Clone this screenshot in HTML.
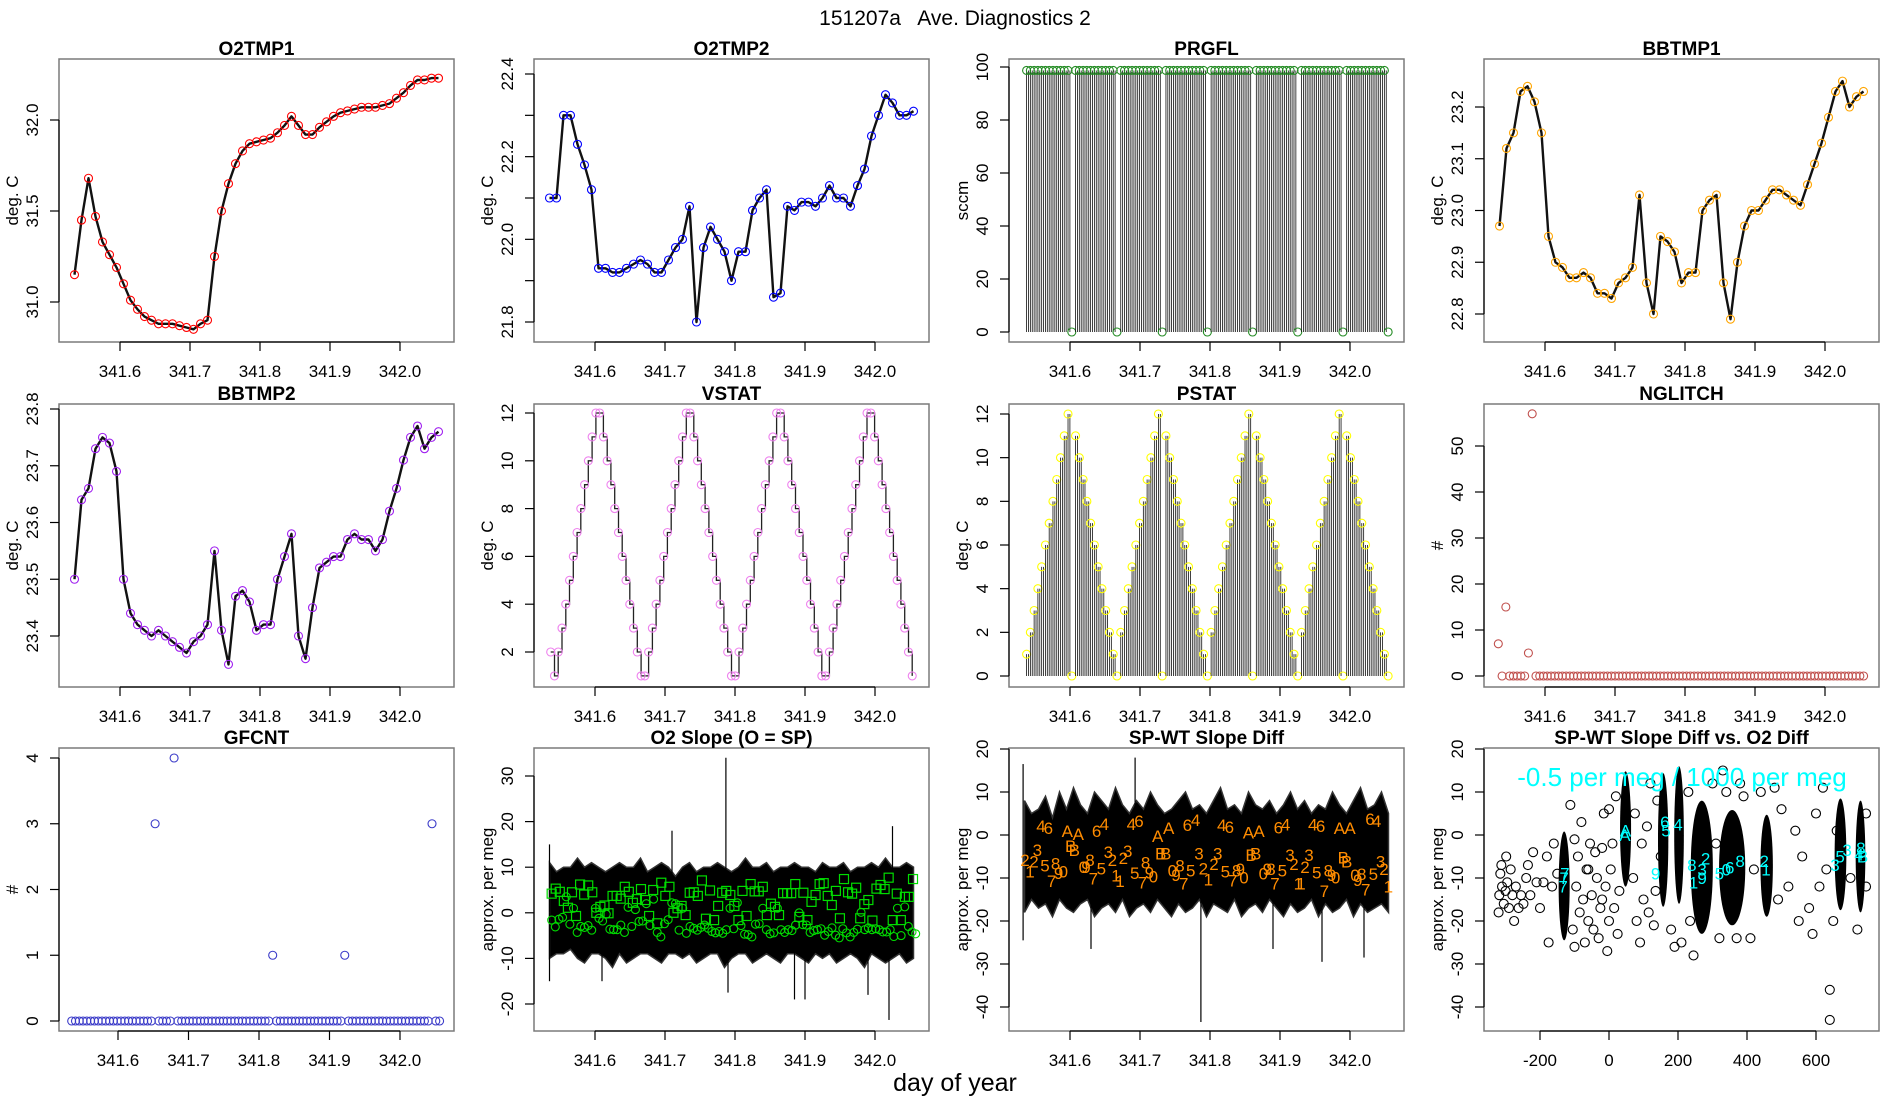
<!DOCTYPE html>
<html><head><meta charset="utf-8"><title>151207a Ave. Diagnostics 2</title>
<style>
html,body{margin:0;padding:0;background:#fff;}
svg{display:block;font-family:"Liberation Sans",Arial,sans-serif;}
</style></head>
<body>
<svg id="chart" xmlns="http://www.w3.org/2000/svg" width="1900" height="1100" viewBox="0 0 1900 1100">
<rect x="0" y="0" width="1900" height="1100" fill="#fff"/>
<text x="955" y="25" text-anchor="middle" font-size="21" style="white-space:pre">151207a   Ave. Diagnostics 2</text>
<text x="955" y="1091" text-anchor="middle" font-size="25">day of year</text>
</svg>
<script>
// ---------- data ----------
const tGrid=[341.535,341.545,341.555,341.565,341.575,341.585,341.595,341.605,341.615,341.625,341.635,341.645,341.655,341.665,341.675,341.685,341.695,341.705,341.715,341.725,341.735,341.745,341.755,341.765,341.775,341.785,341.795,341.805,341.815,341.825,341.835,341.845,341.855,341.865,341.875,341.885,341.895,341.905,341.915,341.925,341.935,341.945,341.955,341.965,341.975,341.985,341.995,342.005,342.015,342.025,342.035,342.045,342.055];
const o2tmp1=[31.15,31.45,31.68,31.47,31.33,31.26,31.19,31.1,31.01,30.96,30.92,30.9,30.88,30.88,30.88,30.87,30.86,30.85,30.88,30.9,31.25,31.5,31.65,31.76,31.83,31.87,31.88,31.89,31.9,31.93,31.97,32.02,31.97,31.92,31.92,31.96,31.99,32.02,32.04,32.05,32.06,32.07,32.07,32.07,32.08,32.09,32.12,32.15,32.19,32.22,32.22,32.23,32.23];
const o2tmp2=[22.1,22.1,22.3,22.3,22.23,22.18,22.12,21.93,21.93,21.92,21.92,21.93,21.94,21.95,21.94,21.92,21.92,21.95,21.98,22.0,22.08,21.8,21.98,22.03,22.0,21.97,21.9,21.97,21.97,22.07,22.1,22.12,21.86,21.87,22.08,22.07,22.09,22.09,22.08,22.1,22.13,22.1,22.1,22.08,22.13,22.17,22.25,22.3,22.35,22.33,22.3,22.3,22.31];
const bbtmp1=[22.97,23.12,23.15,23.23,23.24,23.21,23.15,22.95,22.9,22.89,22.87,22.87,22.88,22.87,22.84,22.84,22.83,22.86,22.87,22.89,23.03,22.86,22.8,22.95,22.94,22.92,22.86,22.88,22.88,23.0,23.02,23.03,22.86,22.79,22.9,22.97,23.0,23.0,23.02,23.04,23.04,23.03,23.02,23.01,23.05,23.09,23.13,23.18,23.23,23.25,23.2,23.22,23.23];
const bbtmp2=[23.5,23.64,23.66,23.73,23.75,23.74,23.69,23.5,23.44,23.42,23.41,23.4,23.41,23.4,23.39,23.38,23.37,23.39,23.4,23.42,23.55,23.41,23.35,23.47,23.48,23.46,23.41,23.42,23.42,23.5,23.54,23.58,23.4,23.36,23.45,23.52,23.53,23.54,23.54,23.57,23.58,23.57,23.57,23.55,23.57,23.62,23.66,23.71,23.75,23.77,23.73,23.75,23.76];
const stepStart=341.5367, stepSize=0.00538;
const vstat=[2,1,2,3,4,5,6,7,8,9,10,11,12,12,11,10,9,8,7,6,5,4,3,2,1,1,2,3,4,5,6,7,8,9,10,11,12,12,11,10,9,8,7,6,5,4,3,2,1,1,2,3,4,5,6,7,8,9,10,11,12,12,11,10,9,8,7,6,5,4,3,2,1,1,2,3,4,5,6,7,8,9,10,11,12,12,11,10,9,8,7,6,5,4,3,2,1];
const pstatStart=341.538;
const pstat=[1,2,3,4,5,6,7,8,9,10,11,12,0,11,10,9,8,7,6,5,4,3,2,1,0,2,3,4,5,6,7,8,9,10,11,12,0,11,10,9,8,7,6,5,4,3,2,1,0,2,3,4,5,6,7,8,9,10,11,12,0,11,10,9,8,7,6,5,4,3,2,1,0,2,3,4,5,6,7,8,9,10,11,12,0,11,10,9,8,7,6,5,4,3,2,1,0];
const prgfl=[98.7,98.7,98.7,98.7,98.7,98.7,98.7,98.7,98.7,98.7,98.7,98.7,0,98.7,98.7,98.7,98.7,98.7,98.7,98.7,98.7,98.7,98.7,98.7,0,98.7,98.7,98.7,98.7,98.7,98.7,98.7,98.7,98.7,98.7,98.7,0,98.7,98.7,98.7,98.7,98.7,98.7,98.7,98.7,98.7,98.7,98.7,0,98.7,98.7,98.7,98.7,98.7,98.7,98.7,98.7,98.7,98.7,98.7,0,98.7,98.7,98.7,98.7,98.7,98.7,98.7,98.7,98.7,98.7,98.7,0,98.7,98.7,98.7,98.7,98.7,98.7,98.7,98.7,98.7,98.7,98.7,0,98.7,98.7,98.7,98.7,98.7,98.7,98.7,98.7,98.7,98.7,98.7,0];
const nglitchStart=341.5333;
const nglitch=[7,0,15,0,0,0,0,0,5,57,0,0,0,0,0,0,0,0,0,0,0,0,0,0,0,0,0,0,0,0,0,0,0,0,0,0,0,0,0,0,0,0,0,0,0,0,0,0,0,0,0,0,0,0,0,0,0,0,0,0,0,0,0,0,0,0,0,0,0,0,0,0,0,0,0,0,0,0,0,0,0,0,0,0,0,0,0,0,0,0,0,0,0,0,0,0,0,0];
const gfcntStart=341.5343;
const gfcnt=[0,0,0,0,0,0,0,0,0,0,0,0,0,0,0,0,0,0,0,0,0,0,3,0,0,0,0,4,0,0,0,0,0,0,0,0,0,0,0,0,0,0,0,0,0,0,0,0,0,0,0,0,0,1,0,0,0,0,0,0,0,0,0,0,0,0,0,0,0,0,0,0,1,0,0,0,0,0,0,0,0,0,0,0,0,0,0,0,0,0,0,0,0,0,0,3,0,0];
// O2 slope
const o2Upper=[11,9,10,10,12,10,11,10,9,10,11,10,10,12,9,10,11,10,8,10,11,9,10,10,11,10,9,10,12,10,10,11,9,10,10,11,10,10,9,11,10,10,11,9,10,10,11,10,12,10,10,11,10];
const o2Lower=[-10,-9,-9,-8,-10,-11,-9,-9,-10,-12,-9,-11,-10,-9,-9,-10,-11,-9,-9,-10,-9,-11,-10,-9,-9,-12,-10,-9,-9,-11,-10,-9,-10,-11,-9,-9,-10,-11,-9,-10,-9,-11,-10,-9,-10,-12,-9,-10,-11,-10,-9,-11,-10];
const o2SpikeT=[341.535,341.535,341.61,341.71,341.787,341.79,341.885,341.9,341.99,342.02,342.025];
const o2SpikeV=[15,-15,-15,18,34,-17.5,-19,-19,-18,-23.5,19];
const o2SqStart=341.5381, o2SqStep=0.0058;
const o2Squares=[4.2,5.3,4.6,2.6,1.1,4.5,-0.7,6.2,4.0,6,4.5,0,1.3,1.6,-0.1,3.7,3.7,3.1,5.7,4.6,2.2,3,5.2,2.8,-0.7,5,-2.3,6.6,3.7,5.7,0,1,1.5,-0.5,4.4,4.5,3.7,7.1,-1.3,4.9,-1.6,1.5,4.4,4.8,3.9,1.5,-1.6,4.8,-0.7,6.3,4.7,4.7,5.7,-0.5,2,1.3,-0.5,4.3,4.3,4.3,6.3,-0.9,4.4,-1.6,2.4,3.9,6.3,6.5,3.7,1.7,4.8,-1.2,7.4,4.5,4.2,5.5,-1.2,1.9,2.8,-1.7,5.3,6.1,5.2,7.7,-1.6,4.2,-1.6,3.5,3.5,7.4];
const o2CircStep=0.0052;
const o2Circles=[-1.6,-3.1,-1.4,-1,3.5,-2.5,1,-4.3,-3,-3.2,-2.8,-3.8,1,-1.2,-1.8,-0.3,-3.6,-3.7,-3.7,-2.7,-4.3,1.2,-3,0.7,-1.9,-1.8,2,-2.8,3,-4.3,-5.3,-2.4,-1.5,2.2,2,-3.8,1,-4.5,-3,-3.4,-3.8,-3.2,-2.7,-3.4,-4.1,-4.4,-4.1,-4.5,-3.7,1,-3.5,2.2,-2.8,-4.7,-4.8,-5.3,-2.5,-2.4,1,-3.7,-4.6,-4.4,1,-3.7,-4.3,-3.7,-3.9,-2.7,0,-2.6,-2.7,-4.3,-3.9,-3.7,-3.5,-4.9,-4.1,-3.3,-4.9,-5.5,-3.5,-4.4,-5.3,-4.3,-3.6,0.1,-3.7,-3.3,-3.7,-3.5,-3.7,-4.2,-4.2,-3.7,-5.2,1,-5,1.3,-3,-4.2,-4.6];
// SP-WT slope diff
const spUpper=[8,5,6,9,4,10,6,11,7,5,10,8,6,11,7,5,8,6,10,7,5,6,8,10,6,7,5,8,11,6,7,5,10,7,6,8,5,7,10,6,8,5,7,6,10,7,5,8,11,6,7,10,5];
const spLower=[-18,-15,-17,-16,-19,-15,-17,-18,-16,-15,-19,-17,-16,-18,-15,-19,-17,-16,-18,-15,-17,-19,-16,-18,-17,-15,-19,-16,-17,-18,-15,-19,-17,-16,-18,-15,-17,-19,-16,-18,-17,-15,-19,-16,-18,-17,-15,-19,-16,-18,-17,-16,-18];
const spSpikeT=[341.533,341.533,341.63,341.693,341.787,341.89,341.96,342.02];
const spSpikeV=[16.5,-24.5,-26.5,18,-43.5,-26.5,-29.5,-28.5];
const spLabT=[341.5357,341.5429,341.5486,341.5533,341.5586,341.5643,341.5690,341.5738,341.5795,341.5838,341.5905,341.5962,341.6010,341.6062,341.6119,341.6190,341.6229,341.6286,341.6333,341.6381,341.6448,341.6490,341.6548,341.6605,341.6657,341.6714,341.6762,341.6824,341.6876,341.6924,341.6986,341.7033,341.7081,341.7133,341.7190,341.7252,341.7295,341.7367,341.7410,341.7462,341.7514,341.7571,341.7624,341.7676,341.7724,341.7795,341.7843,341.7905,341.7976,341.8057,341.8110,341.8167,341.8219,341.8276,341.8324,341.8381,341.8433,341.8486,341.8548,341.8586,341.8652,341.8700,341.8762,341.8819,341.8871,341.8929,341.8976,341.9033,341.9081,341.9143,341.9200,341.9262,341.9300,341.9357,341.9414,341.9467,341.9524,341.9581,341.9633,341.9690,341.9738,341.9795,341.9848,341.9905,341.9952,342.0000,342.0071,342.0110,342.0167,342.0224,342.0286,342.0333,342.0381,342.0438,342.0486,342.0548];
const spLabV=[-5.8,-8.5,-6.2,-3.5,2.1,-7.1,1.6,-10.7,-6.6,-8.8,-8.5,0.9,-2.5,-3.5,0.2,-7.4,-7.4,-5.8,-10.1,0.9,-7.8,2.6,-3.9,-5.8,-9.4,-10.7,-5.4,-3.7,2.6,-8.8,3.3,-11,-6.4,-8.7,-9.7,-0.2,-4.3,-4.3,1.6,-8.3,-9.3,-7.1,-11.3,2.3,-8.3,3.5,-4.3,-7.8,-10.3,-6.8,-4.3,2.3,-8.5,1.9,-10.6,-8.2,-7.9,-9.9,0.6,-4.7,-4.3,0.9,-8.9,-7.9,-7.9,-11.3,1.8,-8.2,2.5,-4.7,-6.8,-11.3,-11.3,-7.4,-4.7,2.5,-8.7,2.1,-13,-8.2,-9.3,-9.9,1.6,-5.2,-6.2,1.6,-9.3,-10.5,-9.1,-12.7,3.7,-9.1,3.3,-6.2,-7.9,-12];
const spLabS=['2','1','2','3','4','5','6','7','8','9','0','A','B','B','A','0','9','8','7','6','5','4','3','2','1','1','2','3','4','5','6','7','8','9','0','A','B','B','A','0','9','8','7','6','5','4','3','2','1','2','3','4','5','6','7','8','9','0','A','B','B','A','0','9','8','7','6','5','4','3','2','1','1','2','3','4','5','6','7','8','9','0','A','B','B','A','0','9','8','7','6','5','4','3','2','1'];
// scatter
const clX=[-130,48,157,203,269,357,457,671,729];
const clHalfW=[16,16,15,14,32,38,18,17,14];
const clTop=[0.8,14.8,14.4,16,8,5.8,4.7,8.5,8];
const clBot=[-24.5,-12,-16.7,-16,-23,-21,-19,-17.5,-18];
const scX=[-320,-318,-315,-312,-310,-305,-300,-298,-295,-290,-285,-280,-275,-270,-262,-255,-248,-240,-235,-228,-220,-210,-200,-190,-180,-175,-160,-165,-150,-112,-105,-100,-95,-90,-85,-80,-75,-70,-65,-60,-55,-50,-45,-40,-35,-30,-25,-20,-15,-10,-5,0,5,10,15,20,25,30,-100,-60,-20,0,70,80,90,100,110,120,130,140,150,75,95,115,135,180,190,210,230,235,245,300,310,320,330,340,370,380,390,410,420,440,480,490,500,520,540,550,560,580,590,600,610,620,630,640,640,650,660,700,745,745,720];
const scY=[-18,-14,-9,-7,-12,-16,-13,-5,-11,-17,-8,-14,-20,-12,-17,-14,-16,-10,-7,-14,-4,-11,-17,-11,-5,-25,-2,-12,-9,7,-22,-26,-12,-5,-18,3,-15,-25,-8,-20,-2,-14,-22,-4,-10,-24,-17,-3,5,-12,-27,-20,-8,-2,-17,9,-23,-13,-1,-8,-15,6,-10,-20,-25,-15,2,12,-21,8,-5,5,-2,-18,-13,-22,-26,-25,10,-20,-28,12,-2,-24,15,10,-24,12,9,-24,-8,10,11,-15,6,-12,1,-20,-5,-17,-23,5,-12,11,-8,-36,-43,-20,1,-10,-12,5,-22];
const cyX=[-130,-133,-128,48,46,162,165,200,135,240,280,245,270,270,320,340,380,350,450,455,655,690,670,730,735,725];
const cyY=[-10,-12,-9,1,0,3,1,2.5,-9,-7,-5.5,-11,-10,-8,-9,-8,-6,-7.5,-6,-8,-7,-3.5,-5,-3,-5,-4.5];
const cyS=['7','7','7','A','A','6','5','4','9','8','2','1','9','3','5','0','8','6','2','1','3','3','5','8','B','4'];
const timeTickVals=[341.6,341.7,341.8,341.9,342.0];
const timeTickLabs=['341.6','341.7','341.8','341.9','342.0'];
const scTickVals=[-200,0,200,400,600];
const scTickLabs=['-200','0','200','400','600'];

// ---------- helpers ----------
const NS='http://www.w3.org/2000/svg';
const svg=document.getElementById('chart');
function mk(tag,attrs,parent){const e=document.createElementNS(NS,tag);for(const k in attrs)e.setAttribute(k,attrs[k]);(parent||svg).appendChild(e);return e;}
const COLS=[59,534,1009,1484], ROWS=[59,404,748], PW=395, PH=283;

function panel(col,row,name,title,ylab,yTicks,yLabs,v0,p0,v1,p1,xoff,xscale,xTicks,xLabs,xv0){
  const L=COLS[col],T=ROWS[row],R=L+PW,B=T+PH;
  const g=mk('g',{});
  
  
  const Y=v=>p0+(v-v0)*(p1-p0)/(v1-v0);
  const X=t=>L+xoff+(t-xv0)*xscale;
  const box=mk('rect',{x:L,y:T,width:PW,height:PH,fill:'none',stroke:'#7a7a7a','stroke-width':1.5},g);
  
  
  const tt=mk('text',{x:L+PW/2,y:T-4,'text-anchor':'middle','font-size':19,'font-weight':'bold'},g);
  tt.textContent=title;
  
  
  const yl=mk('text',{x:L-41,y:T+PH/2,'text-anchor':'middle','font-size':17,transform:`rotate(-90 ${L-41} ${T+PH/2})`},g);
  yl.textContent=ylab;
  
  
  const ya=mk('line',{x1:L,x2:L,y1:Y(yTicks[0]),y2:Y(yTicks[yTicks.length-1]),stroke:'#000','stroke-width':1.2},g);
  
  
  yTicks.forEach((v,i)=>{
    const y=Y(v);
    const tk=mk('line',{x1:L-9,x2:L,y1:y,y2:y,stroke:'#000','stroke-width':1.2},g);
    
    
    if(yLabs[i]){
      const tl=mk('text',{x:L-21,y:y,'text-anchor':'middle','font-size':17,transform:`rotate(-90 ${L-21} ${y})`},g);
      tl.textContent=yLabs[i];
      
      
    }
  });
  const xa=mk('line',{x1:X(xTicks[0]),x2:X(xTicks[xTicks.length-1]),y1:B,y2:B,stroke:'#000','stroke-width':1.2},g);
  
  
  xTicks.forEach((v,i)=>{
    const x=X(v);
    const tk=mk('line',{x1:x,x2:x,y1:B,y2:B+9,stroke:'#000','stroke-width':1.2},g);
    
    
    const tl=mk('text',{x:x,y:B+35,'text-anchor':'middle','font-size':17},g);
    tl.textContent=xLabs[i];
    
    
  });
  return {g,X,Y,L,T,R,B};
}
function tp(col,row,name,title,ylab,yTicks,yLabs,v0,p0,v1,p1,xoff,xscale){
  return panel(col,row,name,title,ylab,yTicks,yLabs,v0,p0,v1,p1,xoff||61,xscale||700,timeTickVals,timeTickLabs,341.6);
}
function tempSeries(P,name,vals,color){
  const pts=vals.map((v,i)=>P.X(tGrid[i]).toFixed(1)+','+P.Y(v).toFixed(1)).join(' ');
  const band=mk('polyline',{points:pts,fill:'none',stroke:'#111','stroke-width':2.4,'stroke-linejoin':'round'},P.g);
  
  
  vals.forEach((v,i)=>{
    const c=mk('circle',{cx:P.X(tGrid[i]),cy:P.Y(v),r:4,fill:'none',stroke:color,'stroke-width':1.1},P.g);
    
    
  });
}
function circ(P,name,x,y,color,r){
  const c=mk('circle',{cx:x,cy:y,r:r||4,fill:'none',stroke:color,'stroke-width':1.1},P.g);
  
  
  return c;
}

// ---------- Row 1 ----------
const P1=tp(0,0,'o2tmp1','O2TMP1','deg. C',[31.0,31.5,32.0],['31.0','31.5','32.0'],32,120,31,302);
tempSeries(P1,'o2tmp1',o2tmp1,'#ff0000');
const P2=tp(1,0,'o2tmp2','O2TMP2','deg. C',[21.8,21.9,22.0,22.1,22.2,22.3,22.4],['21.8','','22.0','','22.2','','22.4'],22.4,74,21.8,322);
tempSeries(P2,'o2tmp2',o2tmp2,'#0000ff');
const P3=tp(2,0,'prgfl','PRGFL','sccm',[0,20,40,60,80,100],['0','20','40','60','80','100'],100,67,0,332);
prgfl.forEach((v,i)=>{
  const t=pstatStart+i*stepSize;
  if(v>0){for(let k=0;k<2;k++){
    const x=P3.X(t+k*stepSize/2);
    const s=mk('line',{x1:x,x2:x,y1:P3.Y(0),y2:P3.Y(v),stroke:'#111','stroke-width':0.8},P3.g);
    
    
  }}
  circ(P3,'prgfl-point',P3.X(t),P3.Y(v),'#228b22');
});
const P4=tp(3,0,'bbtmp1','BBTMP1','deg. C',[22.8,22.9,23.0,23.1,23.2],['22.8','22.9','23.0','23.1','23.2'],23.2,107,22.8,314);
tempSeries(P4,'bbtmp1',bbtmp1,'#ffa500');

// ---------- Row 2 ----------
const P5=tp(0,1,'bbtmp2','BBTMP2','deg. C',[23.4,23.5,23.6,23.7,23.8],['23.4','23.5','23.6','23.7','23.8'],23.8,409,23.4,636);
tempSeries(P5,'bbtmp2',bbtmp2,'#a020f0');
const P6=tp(1,1,'vstat','VSTAT','deg. C',[2,4,6,8,10,12],['2','4','6','8','10','12'],12,413,2,652);
{
  let d='';
  vstat.forEach((v,i)=>{
    const x=P6.X(stepStart+i*stepSize), y=P6.Y(v);
    if(i===0) d+=`M${x.toFixed(1)},${y.toFixed(1)}`;
    else d+=`H${x.toFixed(1)}V${y.toFixed(1)}`;
  });
  const p=mk('path',{d:d,fill:'none',stroke:'#222','stroke-width':1.3},P6.g);
  
  
  vstat.forEach((v,i)=>circ(P6,'vstat-point',P6.X(stepStart+i*stepSize),P6.Y(v),'#ee82ee'));
}
const P7=tp(2,1,'pstat','PSTAT','deg. C',[0,2,4,6,8,10,12],['0','2','4','6','8','10','12'],12,414,0,676);
pstat.forEach((v,i)=>{
  const t=pstatStart+i*stepSize;
  if(v>0){for(let k=0;k<2;k++){
    const x=P7.X(t+k*stepSize/2);
    const s=mk('line',{x1:x,x2:x,y1:P7.Y(0),y2:P7.Y(v),stroke:'#111','stroke-width':0.8},P7.g);
    
    
  }}
  circ(P7,'pstat-point',P7.X(t),P7.Y(v),'#ffff00');
});
const P8=tp(3,1,'nglitch','NGLITCH','#',[0,10,20,30,40,50],['0','10','20','30','40','50'],50,446,0,676);
nglitch.forEach((v,i)=>circ(P8,'nglitch-point',P8.X(nglitchStart+i*stepSize),P8.Y(v),'#c0504d'));

// ---------- Row 3 ----------
const P9=tp(0,2,'gfcnt','GFCNT','#',[0,1,2,3,4],['0','1','2','3','4'],4,758,0,1021,59,705);
gfcnt.forEach((v,i)=>circ(P9,'gfcnt-point',P9.X(gfcntStart+i*stepSize),P9.Y(v),'#3a3ac8'));

const P10=tp(1,2,'o2-slope','O2 Slope (O = SP)','approx. per meg',[-20,-10,0,10,20,30],['-20','-10','0','10','20','30'],30,776,-20,1004);
{
  const up=o2Upper.map((v,i)=>P10.X(tGrid[i]).toFixed(1)+','+P10.Y(v).toFixed(1));
  const lo=o2Lower.map((v,i)=>P10.X(tGrid[i]).toFixed(1)+','+P10.Y(v).toFixed(1)).reverse();
  const band=mk('polygon',{points:up.concat(lo).join(' '),fill:'#000',stroke:'#333','stroke-width':1.5},P10.g);
  
  
  o2SpikeT.forEach((t,i)=>{
    const x=P10.X(t);
    const s=mk('line',{x1:x,x2:x,y1:P10.Y(0),y2:P10.Y(o2SpikeV[i]),stroke:'#000','stroke-width':1.2},P10.g);
    
    
  });
  o2Squares.forEach((v,i)=>{
    const x=P10.X(o2SqStart+i*o2SqStep), y=P10.Y(v);
    const r=mk('rect',{x:x-4.5,y:y-4.5,width:9,height:9,fill:'none',stroke:'#00dd00','stroke-width':1.2},P10.g);
    
    
  });
  o2Circles.forEach((v,i)=>circ(P10,'o2-slope-o-point',P10.X(o2SqStart+i*o2CircStep),P10.Y(v),'#00dd00'));
}

const P11=tp(2,2,'spwt-diff','SP-WT Slope Diff','approx. per meg',[-40,-30,-20,-10,0,10,20],['-40','-30','-20','-10','0','10','20'],20,749,-40,1007);
{
  const up=spUpper.map((v,i)=>P11.X(tGrid[i]).toFixed(1)+','+P11.Y(v).toFixed(1));
  const lo=spLower.map((v,i)=>P11.X(tGrid[i]).toFixed(1)+','+P11.Y(v).toFixed(1)).reverse();
  const band=mk('polygon',{points:up.concat(lo).join(' '),fill:'#000',stroke:'#333','stroke-width':1.5},P11.g);
  
  
  spSpikeT.forEach((t,i)=>{
    const x=P11.X(t);
    const s=mk('line',{x1:x,x2:x,y1:P11.Y(-5),y2:P11.Y(spSpikeV[i]),stroke:'#000','stroke-width':1.2},P11.g);
    
    
  });
  spLabT.forEach((t,i)=>{
    const tx=mk('text',{x:P11.X(t),y:P11.Y(spLabV[i])+6,'text-anchor':'middle','font-size':17,fill:'#ff8c00'},P11.g);
    tx.textContent=spLabS[i];
    
    
  });
}

const P12=panel(3,2,'scatter','SP-WT Slope Diff vs. O2 Diff','approx. per meg',[-40,-30,-20,-10,0,10,20],['-40','-30','-20','-10','0','10','20'],20,749,-40,1007,56,0.345,scTickVals,scTickLabs,-200);
{
  scX.forEach((x,i)=>circ(P12,'scatter-point',P12.X(x),P12.Y(scY[i]),'#000',4.5));
  clX.forEach((x,i)=>{
    const cx=P12.X(x), top=P12.Y(clTop[i]), bot=P12.Y(clBot[i]);
    const e=mk('ellipse',{cx:cx,cy:(top+bot)/2,rx:clHalfW[i]*0.345,ry:(bot-top)/2,fill:'#000'},P12.g);
    
    
  });
  cyX.forEach((x,i)=>{
    const tx=mk('text',{x:P12.X(x),y:P12.Y(cyY[i])+6,'text-anchor':'middle','font-size':17,fill:'#00ffff'},P12.g);
    tx.textContent=cyS[i];
    
    
  });
  const ann=mk('text',{x:1682,y:786,'text-anchor':'middle','font-size':26,fill:'#00ffff'},P12.g);
  ann.textContent='-0.5 per meg / 1000 per meg';
  
  
}
</script>
</body></html>
